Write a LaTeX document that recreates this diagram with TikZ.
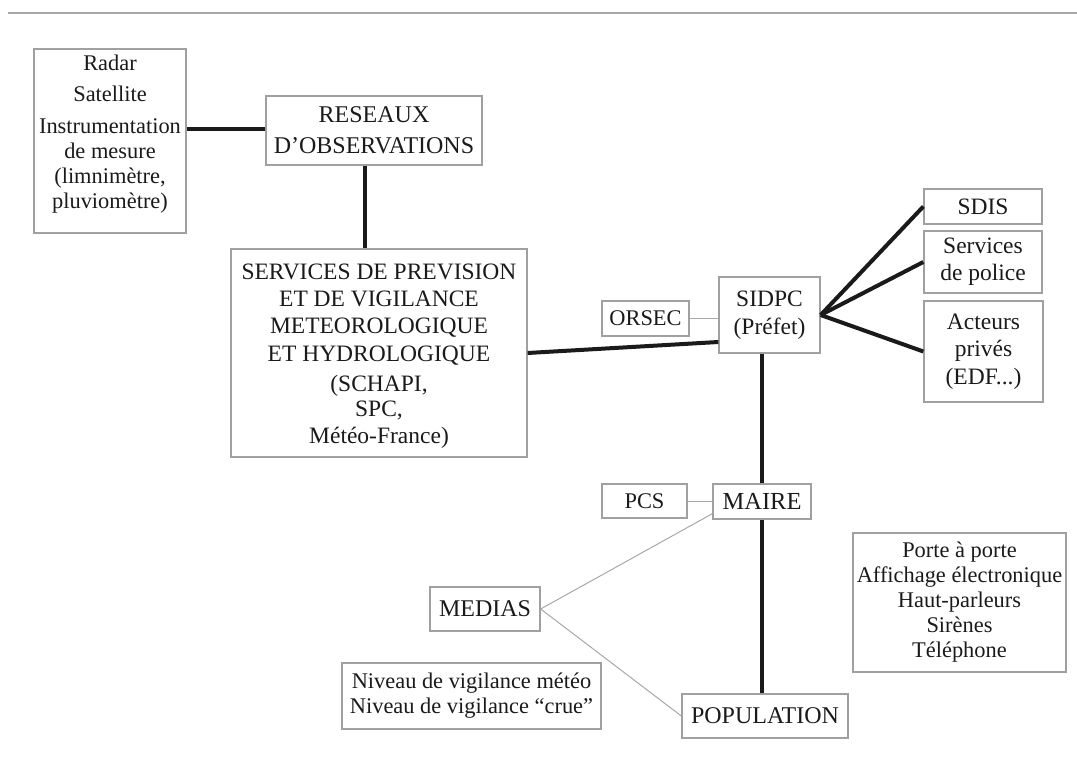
\documentclass[tikz,border=0pt]{standalone}
\usepackage{fontspec}
\setmainfont{Liberation Serif}
\usetikzlibrary{calc}
\definecolor{boxgray}{HTML}{A0A0A0}
\definecolor{ink}{HTML}{1A1A1A}
\definecolor{linkgray}{HTML}{A8A8A8}
\begin{document}
\begin{tikzpicture}[x=1pt,y=-1pt,
  box/.style={draw=boxgray, line width=1.3pt, inner sep=0pt, align=center, text=ink},
  txt/.style={inner sep=0pt, align=center, text=ink},
  big/.style={font=\fontsize{23.5}{27.3}\selectfont},
  small/.style={font=\fontsize{22.4}{25}\selectfont},
  link/.style={draw=ink, line width=4pt},
  thinlink/.style={draw=linkgray, line width=1pt}]
\useasboundingbox (0,0) rectangle (1077,770);
% top rule
\draw[draw=linkgray, line width=1.5pt] (8,13) -- (1077,13);

% boxes
\node[box, minimum width=152pt, minimum height=184pt] (radar) at (110,141) {};
\node[txt, small] (radartxt) at (110,134) {Radar\\[6.5pt]Satellite\\[6.5pt]Instrumentation\\de mesure\\(limnimètre,\\pluviomètre)};

\node[box, font=\fontsize{24}{31}\selectfont, minimum width=216pt, minimum height=69pt] (res) at (374,130.5) {RESEAUX\\D’OBSERVATIONS};

\node[box, minimum width=296pt, minimum height=208pt] (serv) at (379,353) {};
\node[txt, big] (servtxt) at (379,356) {SERVICES DE PREVISION\\ET DE VIGILANCE\\METEOROLOGIQUE\\ET HYDROLOGIQUE\\[2.7pt](SCHAPI,\\[-1.8pt]SPC,\\[-0.8pt]Météo-France)};

\node[box, small, minimum width=87pt, minimum height=35pt] (orsec) at (645.5,318.5) {ORSEC};
\node[box, font=\fontsize{23.5}{28}\selectfont, minimum width=101pt, minimum height=76pt] (sidpc) at (769.5,315) {SIDPC\\(Préfet)};

\node[box, big, minimum width=118pt, minimum height=35pt] (sdis) at (983,206.5) {SDIS};
\node[box, big, minimum width=118pt, minimum height=62pt] (police) at (983,262) {Services\\de police};
\node[box, font=\fontsize{23.5}{27.5}\selectfont, minimum width=119pt, minimum height=101pt] (acteurs) at (983.5,351.5) {Acteurs\\privés\\(EDF...)};

\node[box, small, minimum width=85pt, minimum height=34pt] (pcs) at (644.5,501) {PCS};
\node[box, font=\fontsize{24.5}{28}\selectfont, minimum width=98pt, minimum height=35pt] (maire) at (762,501.5) {MAIRE};

\node[box, font=\fontsize{24}{28}\selectfont, minimum width=110pt, minimum height=44pt] (medias) at (485,609) {MEDIAS};
\node[box, font=\fontsize{24}{28}\selectfont, minimum width=166pt, minimum height=44pt] (pop) at (765,716) {POPULATION};

\node[box, small, minimum width=259pt, minimum height=66pt] (niveau) at (471.5,696) {Niveau de vigilance météo\\Niveau de vigilance “crue”};

\node[box, small, minimum width=213pt, minimum height=139pt] (porte) at (959.5,602.5) {Porte à porte\\Affichage électronique\\Haut-parleurs\\Sirènes\\Téléphone};

% helper coordinates
\coordinate (yrad) at (0,129);
\coordinate (xres) at (365,0);

% thick connectors
\draw[link] (radar.east |- yrad) -- (res.west |- yrad);
\draw[link] (res.south -| xres) -- (serv.north -| xres);
\draw[link] (serv.east) -- ($(sidpc.west)+(0,27)$);
\draw[link] (sidpc.east) -- (sdis.west);
\draw[link] (sidpc.east) -- (police.west);
\draw[link] (sidpc.east) -- (acteurs.west);
\draw[link] (maire.north) -- (maire.north |- sidpc.south);
\draw[link] (maire.south) -- (maire.south |- pop.north);

% thin connectors
\draw[thinlink] (orsec.east) -- (orsec.east -| sidpc.west);
\draw[thinlink] (pcs.east) -- (pcs.east -| maire.west);
\draw[thinlink] (medias.east) -- ($(maire.south west)+(0,-6)$);
\draw[thinlink] (medias.east) -- (pop.west);
\end{tikzpicture}
\end{document}
